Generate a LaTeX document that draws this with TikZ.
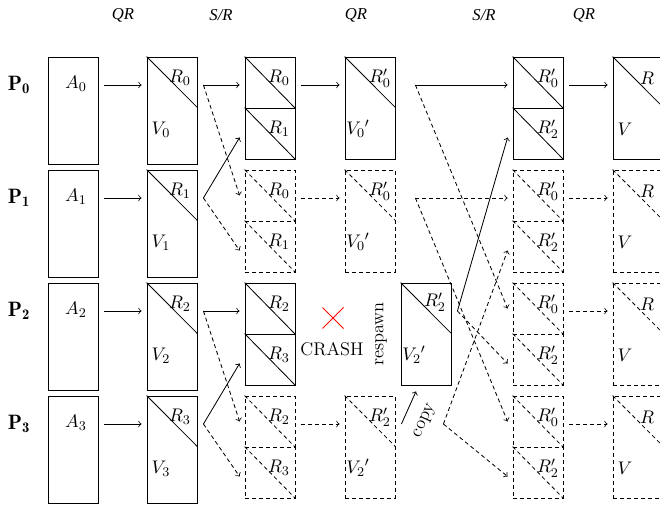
\documentclass[tikz,border=0pt]{standalone}
\usepackage{fontspec}
\newfontfamily\tms{Liberation Serif}
\usetikzlibrary{calc, shapes.misc}

\begin{document}
\begin{tikzpicture}[x=0.6pt, y=-0.6pt, line width=0.5pt,
    font=\fontsize{11}{13}\selectfont,
    box/.style={draw, inner sep=0, minimum width=30pt, minimum height=64.2pt},
    vbox/.style={draw, inner sep=0, minimum width=30pt, minimum height=61.2pt},
    half/.style={draw, inner sep=0, minimum width=30pt, minimum height=30.6pt},
    dsh/.style={dash pattern=on 2.4pt off 1.8pt},
    gap/.style={shorten <=3.6pt, shorten >=3pt},
    phase/.style={font=\tms\itshape},
    proc/.style={font=\fontsize{12.5}{15}\selectfont}]
    \useasboundingbox (0,0) rectangle (660,504);
    % phases
    \node[phase] (ph1) at (123,15) {QR};
    \node[phase] (ph2) at (221,15) {S/R};
    \node[phase] (ph3) at (356,15) {QR};
    \node[phase] (ph4) at (484,15) {S/R};
    \node[phase] (ph5) at (584,15) {QR};
    % processes, A and first QR
    \foreach \i/\t in {0/57,1/170,2/283,3/396} {
      \node[proc] (p\i) at (19,\t+28) {$\mathbf{P_\i}$};
      \node[box] (a\i) at (73,\t+53.5) {};
      \node (la\i) at (76,\t+27) {$A_\i$};
      \node[box] (v\i) at (172,\t+53.5) {};
      \draw (v\i.north west) -- ([yshift=-30.6pt]v\i.north east);
      \node (lr\i) at (180,\t+21) {$R_\i$};
      \node (lv\i) at (161,\t+73) {$V_\i$};
      \draw[->, gap] (a\i.east |- p\i) -- (v\i.west |- p\i);
      \coordinate (f\i) at ([xshift=3.6pt]v\i.east |- p\i);
    }
    % first S/R
    \foreach \i/\t/\st/\ra/\rb in {0/57/solid/0/1,1/170/dsh/0/1,2/283/solid/2/3,3/396/dsh/2/3} {
      \node[half, \st] (st\i) at (270,\t+25.5) {};
      \node[half, \st] (sb\i) at (270,\t+76.5) {};
      \draw[\st] (st\i.north west) -- (st\i.south east);
      \draw[\st] (sb\i.north west) -- (sb\i.south east);
      \node (lst\i) at (279,\t+21) {$R_\ra$};
      \node (lsb\i) at (279,\t+72) {$R_\rb$};
    }
    \draw[->, shorten >=3pt] (f0) -- (st0.west |- f0);
    \draw[->, dsh] (f0) -- ([xshift=-3pt]st1.west);
    \draw[->] (f1) -- ([xshift=-3pt,yshift=-2.4pt]sb0.west);
    \draw[->, dsh] (f1) -- ([xshift=-3pt,yshift=-2.4pt]sb1.west);
    \draw[->, shorten >=3pt] (f2) -- (st2.west |- f2);
    \draw[->, dsh] (f2) -- ([xshift=-3pt]st3.west);
    \draw[->] (f3) -- ([xshift=-3pt,yshift=-2.4pt]sb2.west);
    \draw[->, dsh] (f3) -- ([xshift=-3pt,yshift=-2.4pt]sb3.west);
    % second QR
    \foreach \i/\t/\st/\k in {0/57/solid/0,1/170/dsh/0,3/396/dsh/2} {
      \node[vbox, \st] (w\i) at (370,\t+51) {};
      \draw[\st] (w\i.north west) -- ([yshift=-30.6pt]w\i.north east);
      \node (lwr\i) at (380,\t+21) {$R'_\k$};
      \node (lwv\i) at (358,\t+72) {${V_\k}'$};
      \draw[->, gap, \st] (st\i.east |- p\i) -- (w\i.west |- p\i);
    }
    % crash of P2
    \node[cross out, draw=red, inner sep=0, minimum size=12pt, line width=0.6pt] (crash) at (333,318) {};
    \node (crtxt) at (332,349) {CRASH};
    \node[rotate=90] (resp) at (381,334) {respawn};
    \node[vbox] (rsp) at (426,334) {};
    \draw (rsp.north west) -- ([yshift=-30.6pt]rsp.north east);
    \node (lrr) at (435,302) {$R'_2$};
    \node (lrv) at (414,355) {${V_2}'$};
    \draw[->] ([xshift=3.6pt]w3.east |- p3) -- ([xshift=-6pt,yshift=-3.6pt]rsp.south)
      node[pos=0.35, sloped, below=5pt] (cpy) {copy};
    % second S/R and last QR
    \foreach \i/\t/\st in {0/57/solid,1/170/dsh,2/283/dsh,3/396/dsh} {
      \node[half, \st] (qt\i) at (538,\t+25.5) {};
      \node[half, \st] (qb\i) at (538,\t+76.5) {};
      \draw[\st] (qt\i.north west) -- (qt\i.south east);
      \draw[\st] (qb\i.north west) -- (qb\i.south east);
      \node (lqt\i) at (548,\t+21) {$R'_0$};
      \node (lqb\i) at (548,\t+72) {$R'_2$};
      \node[vbox, \st] (z\i) at (638,\t+51) {};
      \draw[\st] (z\i.north west) -- ([yshift=-30.6pt]z\i.north east);
      \node (lzr\i) at (647,\t+21) {$R$};
      \node (lzv\i) at (625,\t+72) {$V$};
      \draw[->, gap, \st] (qt\i.east |- p\i) -- (z\i.west |- p\i);
    }
    \coordinate (g0) at ([xshift=12pt]w0.east |- p0);
    \coordinate (g1) at ([xshift=12pt]w1.east |- p1);
    \coordinate (g2) at ([xshift=3.6pt]rsp.east |- p2);
    \coordinate (g3) at ([xshift=28.8pt]w3.east |- p3);
    \draw[->, shorten >=3pt] (g0) -- (qt0.west |- g0);
    \draw[->, dsh] (g0) -- ([xshift=-3pt]qt2.west);
    \draw[->, dsh, shorten >=3pt] (g1) -- (qt1.west |- g1);
    \draw[->, dsh] (g1) -- ([xshift=-3pt]qt3.west);
    \draw[->] (g2) -- ([xshift=-3pt,yshift=-2.4pt]qb0.west);
    \draw[->, dsh] (g2) -- ([xshift=-3pt,yshift=-2.4pt]qb2.west);
    \draw[->, dsh] (g3) -- ([xshift=-3pt,yshift=-2.4pt]qb1.west);
    \draw[->, dsh] (g3) -- ([xshift=-3pt,yshift=-2.4pt]qb3.west);
\end{tikzpicture}
\end{document}
